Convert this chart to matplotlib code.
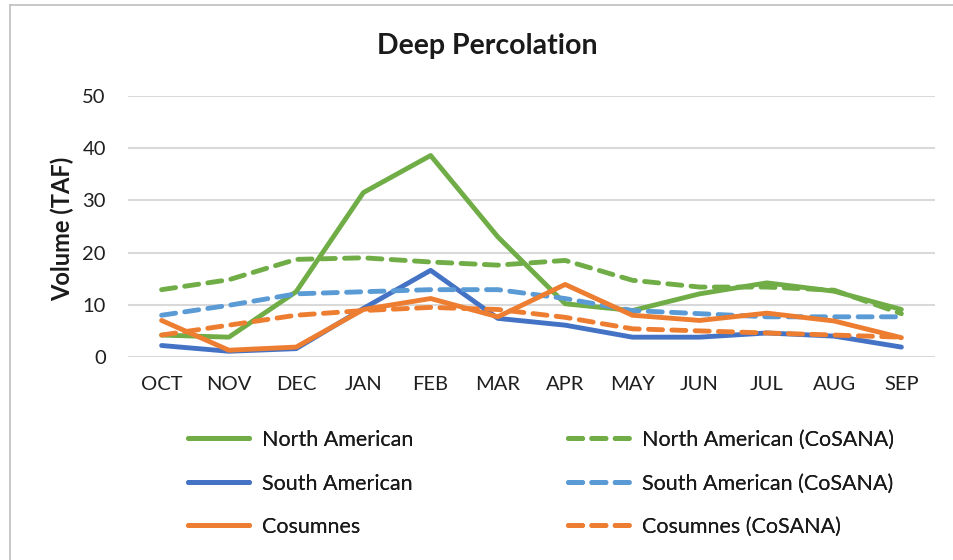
import matplotlib
matplotlib.use("Agg")
import matplotlib.pyplot as plt
from matplotlib.lines import Line2D

months = ["OCT", "NOV", "DEC", "JAN", "FEB", "MAR", "APR", "MAY", "JUN", "JUL", "AUG", "SEP"]
north_american = [4.2, 3.8, 12.5, 31.5, 38.6, 23.0, 10.2, 8.9, 12.1, 14.2, 12.6, 9.1]
north_american_cosana = [12.9, 14.8, 18.7, 19.0, 18.2, 17.6, 18.5, 14.7, 13.4, 13.4, 12.8, 8.3]
south_american = [2.2, 1.1, 1.6, 9.3, 16.6, 7.4, 6.1, 3.8, 3.8, 4.6, 4.0, 1.9]
south_american_cosana = [8.0, 9.9, 12.1, 12.5, 12.9, 12.9, 11.2, 8.9, 8.3, 7.7, 7.7, 7.7]
cosumnes = [7.0, 1.3, 1.9, 9.1, 11.2, 7.7, 13.9, 8.0, 7.0, 8.4, 6.9, 3.7]
cosumnes_cosana = [4.2, 6.1, 8.0, 8.9, 9.5, 9.1, 7.6, 5.4, 5.0, 4.6, 4.2, 3.8]
yticks = [0, 10, 20, 30, 40, 50]

GREEN = "#70AD47"
BLUE = "#4472C4"
LBLUE = "#5B9BD5"
ORANGE = "#ED7D31"
TEXT = "#1a1a1a"
TICK = "#1f1f1f"
FONT = "Lato"

plt.rcParams["font.family"] = [FONT, "DejaVu Sans"]

W, H = 954, 560
fig = plt.figure(figsize=(W / 100, H / 100), dpi=100)
ax = fig.add_axes([128 / W, 1 - 357 / H, (935 - 128) / W, (357 - 96) / H])

x = list(range(len(months)))
lw = 3.5
dash = (2.9, 1.9)
series = [
    ("North American", north_american, GREEN, None),
    ("North American (CoSANA)", north_american_cosana, GREEN, dash),
    ("South American", south_american, BLUE, None),
    ("South American (CoSANA)", south_american_cosana, LBLUE, dash),
    ("Cosumnes", cosumnes, ORANGE, None),
    ("Cosumnes (CoSANA)", cosumnes_cosana, ORANGE, dash),
]
handles = {}
for label, vals, color, d in series:
    if d is None:
        (ln,) = ax.plot(x, vals, color=color, lw=lw, solid_capstyle="round",
                        solid_joinstyle="round", label=label)
    else:
        (ln,) = ax.plot(x, vals, color=color, lw=lw, dashes=d, dash_capstyle="round",
                        dash_joinstyle="round", label=label)
    handles[label] = ln

ax.set_xlim(-0.5, len(months) - 0.5)
ax.set_ylim(0, 50)
ax.set_yticks(yticks)
ax.set_xticks(x)
ax.set_xticklabels(months)
ax.grid(axis="y", color="#D9D9D9", lw=1.5)
ax.set_axisbelow(True)
for s in ax.spines.values():
    s.set_visible(False)
ax.tick_params(axis="both", length=0, labelsize=14.5, colors=TICK)
ax.tick_params(axis="y", pad=16)
ax.tick_params(axis="x", pad=14)

fig.text(487 / W, 1 - 46 / H, "Deep Percolation", ha="center", va="center",
         fontsize=20.5, fontweight="bold", color=TEXT)
fig.text(62 / W, 1 - 229 / H, "Volume (TAF)", ha="center", va="center", rotation=90,
         fontsize=17, fontweight="bold", color=TEXT)

fs = 15.5
leg_kw = dict(frameon=False, fontsize=fs, handlelength=2.85, handletextpad=0.6,
              borderpad=0, borderaxespad=0, loc="center left", labelcolor=TEXT)
rows_y = [439, 483, 526]
col1 = ["North American", "South American", "Cosumnes"]
col2 = ["North American (CoSANA)", "South American (CoSANA)", "Cosumnes (CoSANA)"]
for col, xpx in ((col1, 188), (col2, 568)):
    for name, ypx in zip(col, rows_y):
        leg = fig.legend([handles[name]], [name],
                         bbox_to_anchor=(xpx / W, 1 - (ypx + 1) / H), **leg_kw)
        fig.add_artist(leg)

# chart border
fig.add_artist(Line2D([10 / W, 10 / W], [0, 1 - 5 / H], transform=fig.transFigure,
                      color="#BFBFBF", lw=1.2))
fig.add_artist(Line2D([10 / W, 1], [1 - 5 / H, 1 - 5 / H], transform=fig.transFigure,
                      color="#BFBFBF", lw=1.2))

fig.savefig("out.png", dpi=100)
